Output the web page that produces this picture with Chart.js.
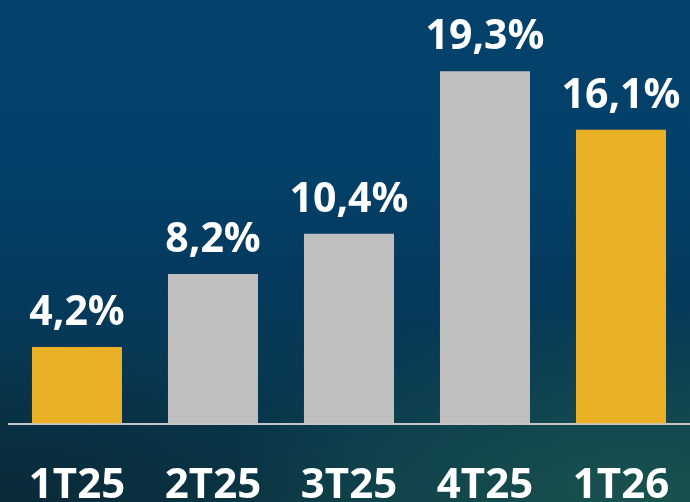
<!DOCTYPE html>
<html><head><meta charset="utf-8">
<script src="https://cdn.jsdelivr.net/npm/chart.js@4"></script>
<style>
html,body{margin:0;padding:0;}
body{width:690px;height:502px;overflow:hidden;
background:
 radial-gradient(ellipse 420px 200px at 640px 500px, rgba(30,90,80,0.75), rgba(30,90,80,0) 100%),
 radial-gradient(ellipse 400px 160px at 0px 500px, rgba(8,30,45,0.6), rgba(8,30,45,0) 100%),
 linear-gradient(180deg,#04426c 0%,#03416a 30%,#053a5e 55%,#08384f 80%,#0b3a48 100%);}
canvas{display:block;}
</style></head>
<body>
<canvas id="c" width="690" height="502"></canvas>
<script>
const categories = ["1T25","2T25","3T25","4T25","1T26"];
const values = [4.2, 8.2, 10.4, 19.3, 16.1];
const barColors = ["#e9af25","#bfbfbf","#bfbfbf","#bfbfbf","#e9af25"];

const FONT = "'Open Sans', 'DejaVu Sans', sans-serif";

const valueLabels = {
  id: 'valueLabels',
  afterDatasetsDraw(chart) {
    const ctx = chart.ctx;
    const meta = chart.getDatasetMeta(0);
    ctx.save();
    ctx.fillStyle = '#ffffff';
    ctx.font = "700 41px " + FONT;
    ctx.textAlign = 'center';
    ctx.textBaseline = 'alphabetic';
    meta.data.forEach((bar, i) => {
      const txt = values[i].toFixed(1).replace('.', ',') + '%';
      ctx.fillText(txt, bar.x, bar.y - 22);
    });
    ctx.restore();
  }
};

new Chart(document.getElementById('c'), {
  type: 'bar',
  data: {
    labels: categories,
    datasets: [{
      data: values,
      backgroundColor: barColors,
      borderWidth: 0,
      categoryPercentage: 1,
      barPercentage: 0.662
    }]
  },
  options: {
    responsive: false,
    animation: false,
    events: [],
    layout: { padding: { left: 9, right: 1, top: 0, bottom: -46 } },
    plugins: { legend: { display: false }, tooltip: { enabled: false } },
    scales: {
      x: {
        grid: { display: false, drawTicks: false },
        border: { display: true, color: '#c4c6c8', width: 2 },
        ticks: { color: '#ffffff', padding: 37, font: { family: FONT, size: 42, weight: '700' }, maxRotation: 0 },
        afterFit: (scale) => { scale.paddingLeft = 0; scale.paddingRight = 0; }
      },
      y: {
        display: false,
        min: 0,
        max: 23.2
      }
    }
  },
  plugins: [valueLabels]
});
</script>
</body></html>
